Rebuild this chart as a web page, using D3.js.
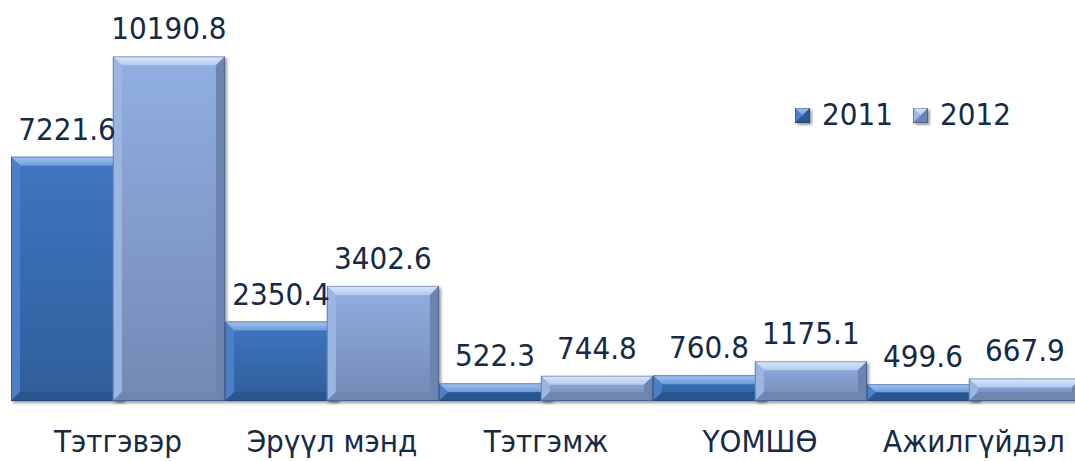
<!DOCTYPE html>
<meta charset="utf-8">
<style>
    body {
        margin: 0;
        background: #fff;
    }
    text {
        font-family: "DejaVu Sans Condensed", "DejaVu Sans", sans-serif;
        font-stretch: condensed;
        fill: #142a45;
    }
</style>
<body>
<script src="https://d3js.org/d3.v7.min.js"></script>
<script>
    var categories = ["Тэтгэвэр", "Эрүүл мэнд", "Тэтгэмж", "ҮОМШӨ", "Ажилгүйдэл"];
    var seriesNames = ["2011", "2012"];
    var values2011 = [7221.6, 2350.4, 522.3, 760.8, 499.6];
    var values2012 = [10190.8, 3402.6, 744.8, 1175.1, 667.9];

    var width = 1075, height = 461;
    var baseY = 401;

    var data = categories.map(function(c, i) {
        return {cat: c, vals: [values2011[i], values2012[i]]};
    });

    // colours per series
    var palette = [
        {faceTop: "#3e76c2", faceBot: "#2f5e9a", top: "#6a9bdc", topHi: "#a4c4f0", left: "#4a80c8", right: "#2d5a94", bottom: "#2c5690"},
        {faceTop: "#91afe1", faceBot: "#7389b5", top: "#b5cbf0", topHi: "#dae6fa", left: "#9cb6e2", right: "#6e84b0", bottom: "#7085b0"}
    ];

    var x0 = d3.scaleBand()
        .domain(categories)
        .range([11, 1081])
        .padding(0);

    // bars overlap a little, like the original
    var x1 = d3.scaleBand()
        .domain(seriesNames)
        .range([0, x0.bandwidth() * 0.952])
        .padding(0);
    var barW = x1.bandwidth() * 1.1;

    var y = d3.scaleLinear()
        .domain([0, 11000])
        .range([baseY, 29]);

    var svg = d3.select("body").append("svg")
        .attr("width", width)
        .attr("height", height);

    var defs = svg.append("defs");

    var shadow = defs.append("filter")
        .attr("id", "shadow")
        .attr("x", "-10%").attr("y", "-10%")
        .attr("width", "130%").attr("height", "130%");
    shadow.append("feDropShadow")
        .attr("dx", 2).attr("dy", 2)
        .attr("stdDeviation", 1.5)
        .attr("flood-color", "#000")
        .attr("flood-opacity", 0.4);

    palette.forEach(function(p, i) {
        var g = defs.append("linearGradient")
            .attr("id", "face" + i)
            .attr("x1", 0).attr("y1", 0).attr("x2", 0).attr("y2", 1);
        g.append("stop").attr("offset", "0%").attr("stop-color", p.faceTop);
        g.append("stop").attr("offset", "100%").attr("stop-color", p.faceBot);

        var t = defs.append("linearGradient")
            .attr("id", "top" + i)
            .attr("x1", 0).attr("y1", 0).attr("x2", 0).attr("y2", 1);
        t.append("stop").attr("offset", "0%").attr("stop-color", p.topHi);
        t.append("stop").attr("offset", "100%").attr("stop-color", p.top);
    });

    // beveled box drawn as five pieces
    function bevelBar(sel, x, yTop, w, h, si, maxB) {
        var p = palette[si];
        var b = Math.min(maxB, h / 2, w / 2);
        var g = sel.append("g").attr("filter", "url(#shadow)");
        g.append("rect")
            .attr("x", x).attr("y", yTop)
            .attr("width", w).attr("height", h)
            .attr("fill", "url(#face" + si + ")");
        var pts = function(a) { return a.map(function(d) { return d.join(","); }).join(" "); };
        g.append("polygon")
            .attr("points", pts([[x, yTop], [x + w, yTop], [x + w - b, yTop + b], [x + b, yTop + b]]))
            .attr("fill", "url(#top" + si + ")");
        g.append("polygon")
            .attr("points", pts([[x, yTop], [x + b, yTop + b], [x + b, yTop + h - b], [x, yTop + h]]))
            .attr("fill", p.left);
        g.append("polygon")
            .attr("points", pts([[x + w, yTop], [x + w, yTop + h], [x + w - b, yTop + h - b], [x + w - b, yTop + b]]))
            .attr("fill", p.right);
        g.append("polygon")
            .attr("points", pts([[x, yTop + h], [x + b, yTop + h - b], [x + w - b, yTop + h - b], [x + w, yTop + h]]))
            .attr("fill", p.bottom);
        g.append("rect")
            .attr("x", x + 0.5).attr("y", yTop + 0.5)
            .attr("width", w - 1).attr("height", h - 1)
            .attr("fill", "none")
            .attr("stroke", "rgba(20,40,80,0.35)")
            .attr("stroke-width", 1);
    }

    var groups = svg.selectAll(".cat")
        .data(data)
        .enter().append("g")
        .attr("class", "cat")
        .attr("transform", function(d) { return "translate(" + x0(d.cat) + ",0)"; });

    groups.each(function(d) {
        var g = d3.select(this);
        d.vals.forEach(function(v, si) {
            var top = y(v);
            bevelBar(g, x1(seriesNames[si]), top, barW, baseY - top, si, 9);
        });
    });

    // value labels
    groups.each(function(d) {
        var g = d3.select(this);
        d.vals.forEach(function(v, si) {
            g.append("text")
                .attr("x", x1(seriesNames[si]) + barW / 2)
                .attr("y", y(v) - 17)
                .attr("text-anchor", "middle")
                .style("font-size", "31px")
                .text(v.toFixed(1));
        });
    });

    // category labels
    svg.selectAll(".catlabel")
        .data(categories)
        .enter().append("text")
        .attr("class", "catlabel")
        .attr("x", function(d) { return x0(d) + x0.bandwidth() / 2; })
        .attr("y", 452)
        .attr("text-anchor", "middle")
        .style("font-size", "31px")
        .text(function(d) { return d; });

    // legend
    var legendX = [795, 913];
    var legend = svg.selectAll(".legend")
        .data(seriesNames)
        .enter().append("g")
        .attr("class", "legend");

    legend.each(function(d, i) {
        var g = d3.select(this);
        bevelBar(g, legendX[i], 108, 15, 15, i, 7.5);
        g.append("text")
            .attr("x", legendX[i] + 27)
            .attr("y", 125)
            .style("font-size", "31px")
            .text(d);
    });
</script>
